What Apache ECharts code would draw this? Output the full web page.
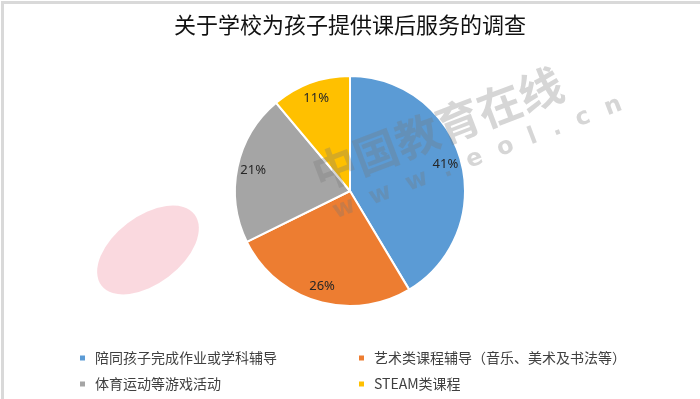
<!DOCTYPE html>
<html>
<head>
<meta charset="utf-8">
<script src="https://cdn.jsdelivr.net/npm/echarts@6/dist/echarts.min.js"></script>
<style>
  html, body { margin: 0; padding: 0; background: #fff; }
  #chart { width: 700px; height: 399px; }
</style>
</head>
<body>
<div id="chart"></div>
<script>
var titleText = "关于学校为孩子提供课后服务的调查";
var categories = [
  "陪同孩子完成作业或学科辅导",
  "艺术类课程辅导（音乐、美术及书法等）",
  "体育运动等游戏活动",
  "STEAM类课程"
];
var values = [41.4, 26.3, 21.2, 11.1];
var colors = ["#5b9bd5", "#ed7d31", "#a5a5a5", "#ffc000"];

var pieData = categories.map(function (name, i) {
  return { name: name, value: values[i] };
});

var chart = echarts.init(document.getElementById("chart"));

var legendText = {
  color: "#404040",
  fontSize: 14,
  lineHeight: 14,
  fontFamily: "Noto Sans CJK SC",
  padding: [0, 0, 0, 4]
};

function makeLegend(left, names) {
  return {
    orient: "vertical",
    left: left,
    top: 351,
    height: 48,
    itemGap: 12,
    padding: 0,
    icon: "rect",
    itemWidth: 7,
    itemHeight: 7,
    data: names,
    textStyle: legendText
  };
}

var option = {
  color: colors,
  animation: false,
  title: {
    text: titleText,
    left: "center",
    top: 9,
    textStyle: {
      color: "#111",
      fontSize: 22,
      fontWeight: "normal",
      fontFamily: "Noto Sans CJK SC"
    }
  },
  legend: [
    makeLegend(78, [categories[0], categories[2]]),
    makeLegend(357, [categories[1], categories[3]])
  ],
  graphic: [
    {
      type: "rect",
      left: 0,
      top: 0,
      shape: { width: 699, height: 398 },
      style: { fill: "none", stroke: "#d9d9d9", lineWidth: 3 },
      silent: true,
      z: 100
    },
    // watermark
    {
      type: "circle",
      x: 148, y: 250,
      scaleX: 1.3, scaleY: 0.75,
      rotation: 0.65,
      shape: { cx: 0, cy: 0, r: 45 },
      style: { fill: "rgba(240,130,150,0.3)" },
      silent: true,
      z: 0
    },
    {
      type: "text",
      x: 322, y: 196,
      rotation: 20.8 * Math.PI / 180,
      style: {
        text: "中国教育在线",
        fill: "rgba(120,120,120,0.3)",
        font: "bold 44px 'Noto Sans CJK SC'",
        verticalAlign: "bottom"
      },
      silent: true,
      z: 50
    },
    {
      type: "text",
      x: 338, y: 224,
      rotation: 20.8 * Math.PI / 180,
      style: {
        text: "w  w  w  .  e  o  l  .  c  n",
        fill: "rgba(120,120,120,0.3)",
        font: "bold 24px 'DejaVu Sans'",
        verticalAlign: "bottom"
      },
      silent: true,
      z: 50
    }
  ],
  series: [
    {
      type: "pie",
      center: [350, 191],
      radius: [0, 115],
      startAngle: 90,
      clockwise: true,
      data: pieData,
      itemStyle: { borderColor: "#fff", borderWidth: 2 },
      label: { show: false },
      labelLine: { show: false },
      z: 2
    },
    {
      // carries the labels at ~83% of the radius, like the reference
      type: "pie",
      center: [350, 191],
      radius: [0, 192],
      startAngle: 90,
      clockwise: true,
      silent: true,
      data: pieData,
      itemStyle: { color: "rgba(0,0,0,0)" },
      emphasis: { disabled: true },
      label: {
        show: true,
        position: "inside",
        color: "#262626",
        fontSize: 13,
        fontFamily: "Noto Sans",
        formatter: function (p) {
          return Math.round(p.value) + "%";
        }
      },
      labelLine: { show: false },
      z: 3
    }
  ]
};

chart.setOption(option);
</script>
</body>
</html>
